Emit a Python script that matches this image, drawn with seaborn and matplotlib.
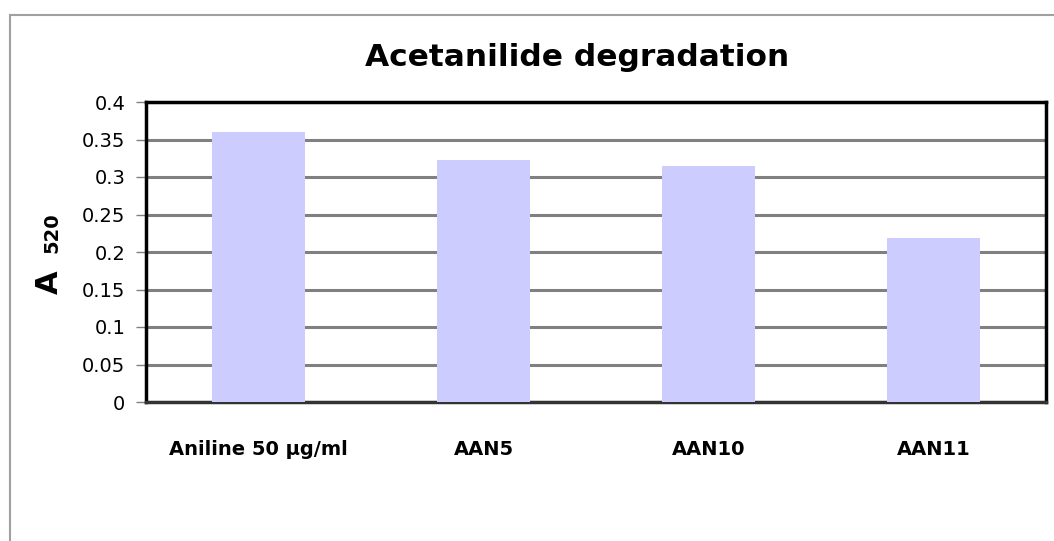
import numpy as np
import pandas as pd
import matplotlib
matplotlib.use('Agg')
import matplotlib.pyplot as plt
import matplotlib.patches as patches
import seaborn as sns

samples = ['Aniline 50 µg/ml', 'AAN5', 'AAN10', 'AAN11']
absorbance = [0.36, 0.323, 0.315, 0.219]
y_ticks = [0, 0.05, 0.1, 0.15, 0.2, 0.25, 0.3, 0.35, 0.4]
y_tick_labels = ['0', '0.05', '0.1', '0.15', '0.2', '0.25', '0.3', '0.35', '0.4']

df = pd.DataFrame({'sample': samples, 'A520': absorbance})

sns.set_style('white')
plt.rcParams['font.family'] = ['DejaVu Sans']
plt.rcParams['text.color'] = 'black'
plt.rcParams['xtick.color'] = 'black'
plt.rcParams['ytick.color'] = 'black'

fig = plt.figure(figsize=(10.54, 5.41), dpi=100)
ax = fig.add_axes([146 / 1054, 1 - 402 / 541, 900 / 1054, 300 / 541])

sns.barplot(data=df, x='sample', y='A520', color='#ccccff', saturation=1,
            width=0.41, linewidth=0, ax=ax, zorder=3)

ax.set_ylim(0, 0.4)
ax.set_yticks(y_ticks)
ax.set_yticklabels(y_tick_labels, fontsize=14)
ax.set_xlim(-0.5, 3.5)
ax.yaxis.grid(True, color='#808080', linewidth=2.2, zorder=0)
ax.set_axisbelow(True)
ax.tick_params(axis='y', which='both', left=True, length=7, width=1, color='#808080',
               labelcolor='black', pad=8)
ax.tick_params(axis='x', bottom=False, labelcolor='black', pad=24)
for lab in ax.get_xticklabels():
    lab.set_fontweight('bold')
    lab.set_fontsize(14)
ax.set_xlabel('')
ax.set_ylabel('')
for side in ['top', 'right', 'left', 'bottom']:
    ax.spines[side].set_visible(True)
    ax.spines[side].set_color('black')
    ax.spines[side].set_linewidth(2.5)
ax.spines['bottom'].set_color('#333333')

# y label "A 520"
fig.text(49 / 1054, 1 - 282 / 541, 'A', rotation=90, ha='center', va='center',
         fontsize=22, fontweight='bold', color='black')
fig.text(52 / 1054, 1 - 233 / 541, '520', rotation=90, ha='center', va='center',
         fontsize=14, fontweight='bold', color='black')

fig.text(577 / 1054, 1 - 58 / 541, 'Acetanilide degradation', ha='center', va='center',
         fontsize=22.5, fontweight='bold', color='black')

# chart area border
border = patches.Rectangle((10 / 1054, -0.2), 1.5, 1.2 - 15 / 541, transform=fig.transFigure,
                           fill=False, edgecolor='#a0a0a0', linewidth=1.5)
fig.patches.append(border)

fig.savefig('out.png', dpi=100)
